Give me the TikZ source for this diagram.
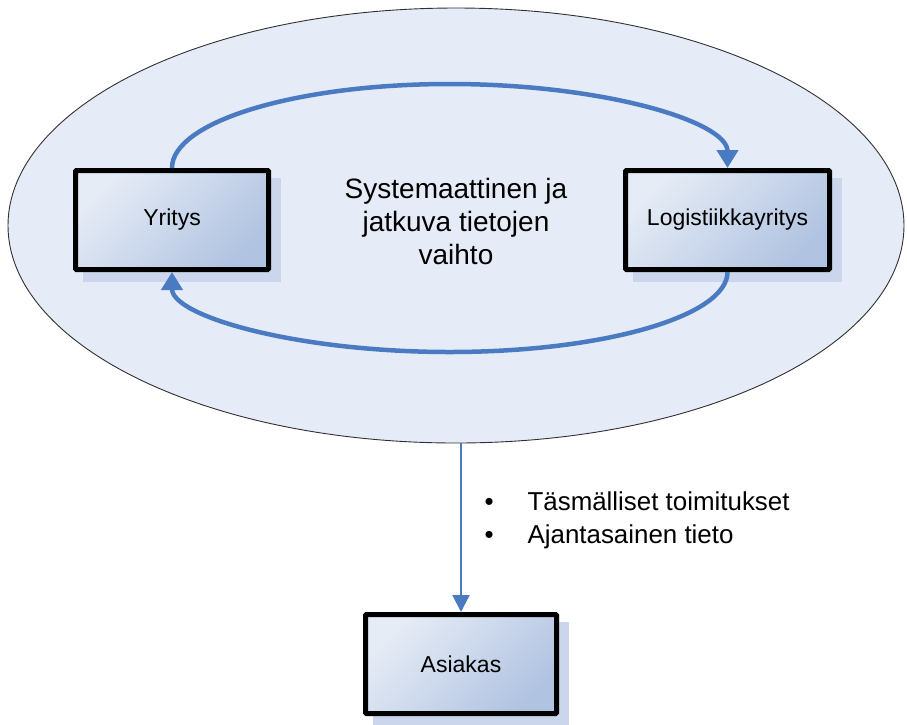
\documentclass[tikz,border=0pt]{standalone}
\usepackage{fontspec}
\setmainfont{Liberation Sans}
\usetikzlibrary{shapes.geometric,arrows.meta,calc,backgrounds}

\definecolor{cloudfill}{HTML}{E6ECF7}
\definecolor{cloudline}{HTML}{303030}
\definecolor{boxlight}{HTML}{E6ECF6}
\definecolor{boxdark}{HTML}{B0C3E1}
\definecolor{shadowcol}{HTML}{CBD6EC}
\definecolor{flow}{HTML}{4A7BC2}

\tikzset{
  party/.style={rectangle, draw=black, line width=5pt, rounded corners=1pt,
    top color=boxlight, bottom color=boxdark, shading angle=45,
    minimum height=99pt, font=\fontsize{23}{27}\selectfont, text=black},
  flowarc/.style={draw=flow, line width=4.5pt,
    -{Triangle[width=21pt,length=18pt]}},
  flowdown/.style={draw=flow, line width=2.2pt,
    -{Triangle[width=17pt,length=17pt]}},
}

\newcommand{\boxshadow}[1]{%
  \fill[shadowcol] ($(#1.south west)+(10,10)$) rectangle ($(#1.north east)+(10,10)$);}

\begin{document}
\begin{tikzpicture}[x=1pt,y=-1pt]
  \useasboundingbox (0,0) rectangle (907,724);

  % parties
  \node[party, minimum width=193pt] (yr) at (172,220) {Yritys};
  \node[party, minimum width=204pt] (lg) at (727.5,220) {Logistiikkayritys};
  \node[party, minimum width=191pt] (as) at (461,664) {Asiakas};

  \begin{scope}[on background layer]
    % shared exchange area
    \node[ellipse, draw=cloudline, line width=0.9pt, fill=cloudfill,
          minimum width=896pt, minimum height=435pt] (cloud) at (456,225.5) {};
    % shadows behind the boxes
    \boxshadow{yr}
    \boxshadow{lg}
    \boxshadow{as}
  \end{scope}

  % centre caption
  \node[align=center, font=\fontsize{28}{33}\selectfont] (caption) at (456,221)
    {Systemaattinen ja\\jatkuva tietojen\\vaihto};

  % information loop between the companies
  \draw[flowarc] (yr.north) arc[start angle=180, end angle=0, x radius=277.75pt, y radius=84pt];
  \draw[flowarc] (lg.south) arc[start angle=0, end angle=-180, x radius=277.75pt, y radius=80pt];

  % delivery to the customer
  \draw[flowdown] (as.north |- cloud.south) -- (as.north);

  % benefits
  \node[anchor=west, align=left, font=\fontsize{25.9}{33}\selectfont] (benefits) at (481,520)
    {\begin{tabular}{@{}l@{\hspace{34pt}}l@{}}
      \textbullet & Täsmälliset toimitukset\\
      \textbullet & Ajantasainen tieto
    \end{tabular}};
\end{tikzpicture}
\end{document}
